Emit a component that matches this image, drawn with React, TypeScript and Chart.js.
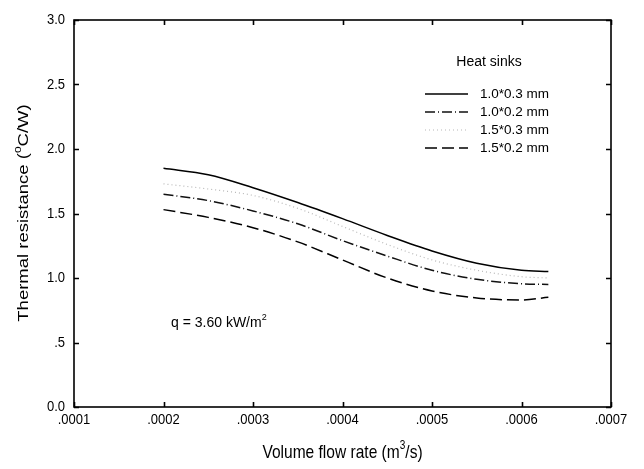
import React, { useEffect, useRef } from "react";
import { Chart, registerables } from "chart.js";

Chart.register(...registerables);

const flowRates = [0.0002, 0.00025, 0.0003, 0.00035, 0.0004, 0.00045, 0.0005, 0.00055, 0.0006, 0.00063];
const hs_10x03 = [1.85, 1.8, 1.7, 1.585, 1.46, 1.33, 1.21, 1.115, 1.06, 1.05];
const hs_10x02 = [1.65, 1.6, 1.52, 1.42, 1.29, 1.17, 1.06, 0.99, 0.955, 0.95];
const hs_15x03 = [1.73, 1.69, 1.64, 1.54, 1.4, 1.26, 1.14, 1.06, 1.01, 1.0];
const hs_15x02 = [1.53, 1.47, 1.39, 1.28, 1.14, 1.0, 0.9, 0.845, 0.83, 0.85];

const seriesNames = ["1.0*0.3 mm", "1.0*0.2 mm", "1.5*0.3 mm", "1.5*0.2 mm"];
const legendTitle = "Heat sinks";

const xTickValues = [0.0001, 0.0002, 0.0003, 0.0004, 0.0005, 0.0006, 0.0007];
const xTickLabels = [".0001", ".0002", ".0003", ".0004", ".0005", ".0006", ".0007"];
const yTickValues = [0, 0.5, 1.0, 1.5, 2.0, 2.5, 3.0];
const yTickLabels = ["0.0", ".5", "1.0", "1.5", "2.0", "2.5", "3.0"];

const FONT = "'Liberation Sans', Arial, sans-serif";
const SQUEEZE = 0.84;

const styles = [
  { color: "#000000", width: 1.5, dash: [] as number[] },
  { color: "#111111", width: 1.5, dash: [10, 3, 1, 3] },
  { color: "#b8b8b8", width: 1.2, dash: [1, 3] },
  { color: "#000000", width: 1.5, dash: [12, 5] },
];

const seriesData = [hs_10x03, hs_10x02, hs_15x03, hs_15x02];

function drawSupText(
  ctx: CanvasRenderingContext2D,
  parts: { t: string; sup?: boolean }[],
  x: number,
  y: number,
  size: number,
  align: "left" | "center"
) {
  const supSize = Math.round(size * 0.65);
  let total = 0;
  for (const p of parts) {
    ctx.font = `${p.sup ? supSize : size}px ${FONT}`;
    total += ctx.measureText(p.t).width;
  }
  let cx = align === "center" ? x - total / 2 : x;
  ctx.textAlign = "left";
  ctx.textBaseline = "middle";
  for (const p of parts) {
    ctx.font = `${p.sup ? supSize : size}px ${FONT}`;
    ctx.fillText(p.t, cx, p.sup ? y - size * 0.4 : y);
    cx += ctx.measureText(p.t).width;
  }
}

const framePlugin = {
  id: "framePlugin",
  afterDraw(chart: any) {
    const ctx: CanvasRenderingContext2D = chart.ctx;
    const { left, right, top, bottom } = chart.chartArea;
    const xs = chart.scales.x;
    const ys = chart.scales.y;
    ctx.save();
    ctx.strokeStyle = "#000";
    ctx.lineWidth = 1.6;
    ctx.setLineDash([]);
    ctx.strokeRect(left, top, right - left, bottom - top);
    const tl = 5;
    ctx.beginPath();
    for (const v of xTickValues) {
      const px = Math.round(xs.getPixelForValue(v)) + 0.5;
      ctx.moveTo(px, bottom);
      ctx.lineTo(px, bottom - tl);
      ctx.moveTo(px, top);
      ctx.lineTo(px, top + tl);
    }
    for (const v of yTickValues) {
      const py = Math.round(ys.getPixelForValue(v)) + 0.5;
      ctx.moveTo(left, py);
      ctx.lineTo(left + tl, py);
      ctx.moveTo(right, py);
      ctx.lineTo(right - tl, py);
    }
    ctx.stroke();

    ctx.fillStyle = "#000";
    // tick labels
    ctx.font = `15.5px ${FONT}`;
    ctx.textBaseline = "middle";
    xTickValues.forEach((v, i) => {
      const px = xs.getPixelForValue(v);
      ctx.save();
      ctx.translate(px, 420);
      ctx.scale(SQUEEZE, 1);
      ctx.textAlign = "center";
      ctx.fillText(xTickLabels[i], 0, 0);
      ctx.restore();
    });
    yTickValues.forEach((v, i) => {
      const py = ys.getPixelForValue(v);
      ctx.save();
      ctx.translate(65, py);
      ctx.scale(SQUEEZE, 1);
      ctx.textAlign = "right";
      ctx.fillText(yTickLabels[i], 0, 0);
      ctx.restore();
    });

    // axis titles
    ctx.save();
    ctx.translate((left + right) / 2, 453);
    ctx.scale(SQUEEZE, 1);
    drawSupText(
      ctx,
      [{ t: "Volume flow rate (m" }, { t: "3", sup: true }, { t: "/s)" }],
      0,
      0,
      18.5,
      "center"
    );
    ctx.restore();
    ctx.save();
    ctx.translate(24, 213);
    ctx.scale(SQUEEZE, 1);
    ctx.rotate(-Math.PI / 2);
    drawSupText(
      ctx,
      [{ t: "Thermal resistance (" }, { t: "o", sup: true }, { t: "C/W)" }],
      0,
      0,
      18.5,
      "center"
    );
    ctx.restore();

    // annotation
    drawSupText(ctx, [{ t: "q = 3.60 kW/m" }, { t: "2", sup: true }], 171, 323, 14, "left");

    // legend
    ctx.font = `14px ${FONT}`;
    ctx.textAlign = "center";
    ctx.textBaseline = "middle";
    ctx.fillText(legendTitle, 489, 62);
    const rowsY = [94, 112, 130, 148];
    seriesNames.forEach((name, i) => {
      const s = styles[i];
      ctx.strokeStyle = s.color;
      ctx.lineWidth = s.width;
      ctx.setLineDash(s.dash);
      ctx.beginPath();
      ctx.moveTo(425, rowsY[i]);
      ctx.lineTo(468, rowsY[i]);
      ctx.stroke();
      ctx.setLineDash([]);
      ctx.fillStyle = "#000";
      ctx.font = `13.5px ${FONT}`;
      ctx.textAlign = "left";
      ctx.fillText(name, 480, rowsY[i]);
    });
    ctx.restore();
  },
};

export default function App() {
  const ref = useRef<HTMLCanvasElement | null>(null);
  useEffect(() => {
    document.body.style.margin = "0";
    if (!ref.current) return;
    const chart = new Chart(ref.current, {
      type: "line",
      data: {
        datasets: seriesNames.map((name, i) => ({
          label: name,
          data: flowRates.map((x, j) => ({ x, y: seriesData[i][j] })),
          borderColor: styles[i].color,
          borderWidth: styles[i].width,
          borderDash: styles[i].dash,
          pointRadius: 0,
          fill: false,
          cubicInterpolationMode: "monotone" as const,
        })),
      },
      options: {
        responsive: false,
        animation: false,
        layout: { padding: { left: 0, right: 33, top: 20, bottom: 0 } },
        plugins: { legend: { display: false }, tooltip: { enabled: false } },
        scales: {
          x: {
            type: "linear",
            min: 0.0001,
            max: 0.0007,
            grid: { display: false },
            border: { display: false },
            afterBuildTicks: (axis: any) => {
              axis.ticks = xTickValues.map((v) => ({ value: v }));
            },
            afterFit: (axis: any) => {
              axis.height = 62;
            },
            ticks: { display: false },
          },
          y: {
            type: "linear",
            min: 0,
            max: 3,
            grid: { display: false },
            border: { display: false },
            afterBuildTicks: (axis: any) => {
              axis.ticks = yTickValues.map((v) => ({ value: v }));
            },
            afterFit: (axis: any) => {
              axis.width = 74;
            },
            ticks: { display: false },
          },
        },
      },
      plugins: [framePlugin],
    } as any);
    return () => chart.destroy();
  }, []);
  return (
    <div style={{ width: 644, height: 469, background: "#fff" }}>
      <canvas ref={ref} width={644} height={469} />
    </div>
  );
}
